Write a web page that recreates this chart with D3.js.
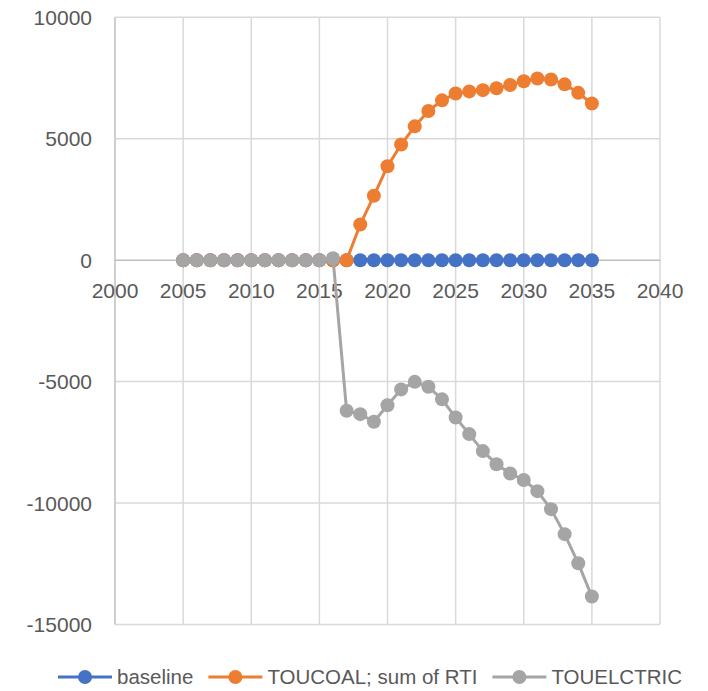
<!DOCTYPE html>
<html><head><meta charset="utf-8">
<script src="https://cdn.jsdelivr.net/npm/d3@7/dist/d3.min.js"></script>
<style>body{margin:0;background:#fff}svg{display:block}text{font-family:"Liberation Sans",Arial,sans-serif;fill:#595959}</style>
</head><body>
<svg id="c" width="708" height="691"></svg>
<script>
const years = d3.range(2005, 2036);
const seriesNames = ["baseline", "TOUCOAL; sum of RTI", "TOUELCTRIC"];
const seriesColors = ["#4472C4", "#ED7D31", "#A5A5A5"];
const baseline = years.map(() => 0);
const toucoal = [0,0,0,0,0,0,0,0,0,0,0,0,0,
  1470,2650,3870,4760,5510,6140,6580,6860,6950,7000,7080,7210,7370,7480,7440,7240,6890,6450];
const touelctric = [0,0,0,0,0,0,0,0,0,0,0,80,-6200,
  -6340,-6650,-5970,-5320,-5010,-5210,-5730,-6480,-7160,-7860,-8400,-8780,-9050,-9510,-10250,-11280,-12480,-13850];
const xTicks = [2000,2005,2010,2015,2020,2025,2030,2035,2040];
const yTicks = [10000,5000,0,-5000,-10000,-15000];

const svg = d3.select("#c");
const x = d3.scaleLinear().domain([2000,2040]).range([115,660]);
const y = d3.scaleLinear().domain([-15000,10000]).range([624.5,17.3]);

// gridlines
const g = svg.append("g");
g.selectAll("line.h").data(yTicks.filter(v=>v!==0)).join("line")
  .attr("x1",x(2000)).attr("x2",x(2040)).attr("y1",d=>y(d)).attr("y2",d=>y(d))
  .attr("stroke","#D9D9D9").attr("stroke-width",1.5);
g.selectAll("line.v").data(xTicks.slice(1)).join("line")
  .attr("x1",d=>x(d)).attr("x2",d=>x(d)).attr("y1",y(10000)).attr("y2",y(-15000))
  .attr("stroke","#D9D9D9").attr("stroke-width",1.5);
// axes lines
g.append("line").attr("x1",x(2000)).attr("x2",x(2000)).attr("y1",y(10000)).attr("y2",y(-15000))
  .attr("stroke","#BFBFBF").attr("stroke-width",1.5);
g.append("line").attr("x1",x(2000)).attr("x2",x(2040)).attr("y1",y(0)).attr("y2",y(0))
  .attr("stroke","#BFBFBF").attr("stroke-width",1.5);

// y labels
svg.selectAll("text.yl").data(yTicks).join("text").attr("class","yl")
  .attr("x",92).attr("y",d=>y(d)).attr("dy","0.36em").attr("text-anchor","end")
  .attr("font-size",21).text(d=>d);
// x labels
svg.selectAll("text.xl").data(xTicks).join("text").attr("class","xl")
  .attr("x",d=>x(d)).attr("y",298).attr("text-anchor","middle")
  .attr("font-size",21).text(d=>d);

const data = [baseline, toucoal, touelctric];
const line = d3.line().x((d,i)=>x(years[i])).y(d=>y(d));
data.forEach((vals,k)=>{
  const s = svg.append("g");
  s.append("path").attr("d",line(vals)).attr("fill","none")
    .attr("stroke",seriesColors[k]).attr("stroke-width",3).attr("stroke-linejoin","round");
  s.selectAll("circle").data(vals).join("circle")
    .attr("cx",(d,i)=>x(years[i])).attr("cy",d=>y(d)).attr("r",7)
    .attr("fill",seriesColors[k]);
});

// legend
let lx = 58; const ly = 677;
seriesNames.forEach((name,k)=>{
  const lg = svg.append("g");
  lg.append("line").attr("x1",lx).attr("x2",lx+54).attr("y1",ly).attr("y2",ly)
    .attr("stroke",seriesColors[k]).attr("stroke-width",3);
  lg.append("circle").attr("cx",lx+27).attr("cy",ly).attr("r",7).attr("fill",seriesColors[k]);
  const t = lg.append("text").attr("x",lx+59).attr("y",ly).attr("dy","0.36em")
    .attr("font-size",20.5).text(name);
  lx = lx + 59 + t.node().getComputedTextLength() + 15;
});
</script>
</body></html>
